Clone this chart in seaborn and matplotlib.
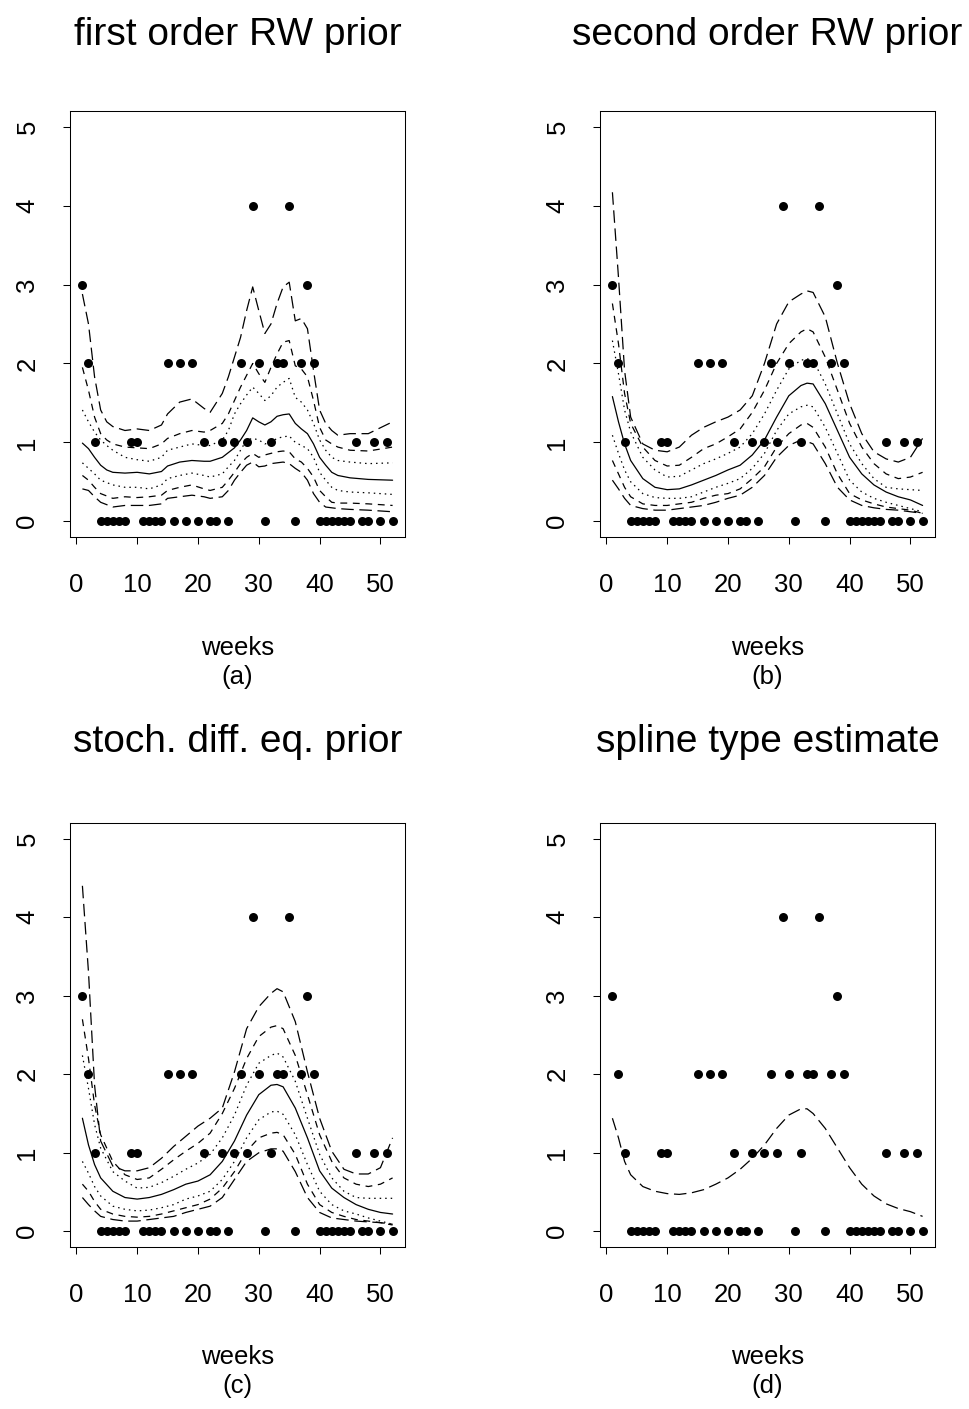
import matplotlib
matplotlib.use('Agg')
import matplotlib.pyplot as plt
import pandas as pd
import seaborn as sns

sns.set_style('ticks')
plt.rcParams['font.family'] = ['Liberation Sans', 'DejaVu Sans']
plt.rcParams['text.color'] = 'black'
plt.rcParams['xtick.color'] = 'black'
plt.rcParams['ytick.color'] = 'black'
plt.rcParams['axes.edgecolor'] = 'black'

# observed weekly counts
weeks = list(range(1, 53))
counts = [3, 2, 1, 0, 0, 0, 0, 0, 1, 1,
          0, 0, 0, 0, 2, 0, 2, 0, 2, 0,
          1, 0, 0, 1, 0, 1, 2, 1, 4, 2,
          0, 1, 2, 2, 4, 0, 2, 3, 2, 0,
          0, 0, 0, 0, 0, 1, 0, 0, 1, 0,
          1, 0]

# (a) first order RW prior: median and quantile curves
weeks_a = [1, 2, 3, 4, 5, 6, 8, 10, 12, 14, 15, 17, 19, 21, 22, 24, 25, 26, 27, 28,
           29, 30, 31, 32, 33, 34, 35, 36, 37, 38, 39, 40, 41, 42, 43, 45, 48, 52]
a_med = [0.99, 0.92, 0.81, 0.71, 0.65, 0.62, 0.61, 0.62, 0.60, 0.63, 0.70, 0.75, 0.77, 0.76, 0.76, 0.81, 0.87, 0.93, 1.03, 1.15,
         1.31, 1.26, 1.22, 1.26, 1.33, 1.35, 1.36, 1.24, 1.17, 1.11, 0.98, 0.81, 0.71, 0.62, 0.58, 0.55, 0.53, 0.52]
a_dot_hi = [1.41, 1.26, 1.13, 1.03, 0.96, 0.90, 0.81, 0.78, 0.76, 0.81, 0.90, 0.94, 0.98, 0.96, 0.96, 1.03, 1.15, 1.36, 1.49, 1.60,
            1.70, 1.62, 1.53, 1.59, 1.70, 1.76, 1.81, 1.57, 1.51, 1.41, 1.24, 1.03, 0.90, 0.81, 0.77, 0.75, 0.73, 0.74]
a_dot_lo = [0.74, 0.67, 0.60, 0.52, 0.49, 0.46, 0.43, 0.43, 0.41, 0.46, 0.54, 0.58, 0.61, 0.58, 0.56, 0.60, 0.69, 0.77, 0.90, 1.03,
            1.05, 1.03, 0.98, 1.00, 1.05, 1.07, 1.08, 1.00, 0.96, 0.92, 0.81, 0.62, 0.52, 0.43, 0.39, 0.37, 0.36, 0.34]
a_dash_hi = [1.95, 1.66, 1.32, 1.11, 1.03, 0.98, 0.94, 0.93, 0.92, 0.98, 1.05, 1.11, 1.15, 1.13, 1.15, 1.24, 1.36, 1.53, 1.70, 1.85,
             2.00, 1.87, 1.76, 1.95, 2.12, 2.27, 2.29, 1.97, 1.93, 1.83, 1.53, 1.19, 1.03, 0.98, 0.94, 0.90, 0.89, 0.94]
a_dash_lo = [0.58, 0.52, 0.43, 0.35, 0.32, 0.29, 0.31, 0.30, 0.31, 0.33, 0.39, 0.43, 0.46, 0.41, 0.39, 0.43, 0.52, 0.62, 0.73, 0.81,
             0.86, 0.81, 0.84, 0.86, 0.88, 0.89, 0.88, 0.79, 0.75, 0.67, 0.56, 0.39, 0.31, 0.24, 0.23, 0.23, 0.22, 0.20]
a_long_hi = [2.88, 2.50, 1.83, 1.41, 1.26, 1.20, 1.15, 1.17, 1.15, 1.22, 1.36, 1.51, 1.55, 1.43, 1.38, 1.62, 1.83, 2.08, 2.33, 2.67,
             2.97, 2.67, 2.38, 2.50, 2.76, 2.97, 3.03, 2.54, 2.57, 2.44, 1.91, 1.41, 1.24, 1.15, 1.09, 1.11, 1.11, 1.26]
a_long_lo = [0.41, 0.39, 0.31, 0.24, 0.21, 0.18, 0.20, 0.20, 0.20, 0.22, 0.29, 0.31, 0.33, 0.31, 0.29, 0.31, 0.39, 0.52, 0.62, 0.71,
             0.75, 0.69, 0.70, 0.73, 0.74, 0.75, 0.73, 0.67, 0.62, 0.52, 0.35, 0.24, 0.18, 0.17, 0.16, 0.15, 0.14, 0.12]

# (b), (c), (d) are smooth, read on a coarser week grid
weeks_s = [1, 2, 3, 4, 6, 8, 10, 12, 14, 16, 18, 20, 22, 24, 26, 28, 30, 32, 33, 34,
           36, 38, 40, 42, 44, 46, 48, 50, 52]

b_med = [1.58, 1.26, 0.98, 0.77, 0.54, 0.43, 0.40, 0.41, 0.46, 0.52, 0.58, 0.65, 0.71, 0.84, 1.03, 1.32, 1.59, 1.72, 1.75, 1.74,
         1.49, 1.15, 0.81, 0.60, 0.46, 0.37, 0.31, 0.27, 0.20]
b_dot_hi = [2.29, 1.87, 1.41, 1.13, 0.81, 0.65, 0.56, 0.57, 0.65, 0.73, 0.79, 0.86, 0.94, 1.11, 1.36, 1.66, 1.93, 2.04, 2.06, 2.04,
            1.74, 1.36, 0.98, 0.73, 0.54, 0.43, 0.41, 0.40, 0.39]
b_dot_lo = [1.09, 0.86, 0.65, 0.50, 0.35, 0.30, 0.29, 0.29, 0.31, 0.37, 0.43, 0.48, 0.54, 0.67, 0.86, 1.15, 1.36, 1.45, 1.47, 1.45,
            1.19, 0.86, 0.52, 0.37, 0.29, 0.24, 0.20, 0.16, 0.12]
b_dash_hi = [2.76, 2.25, 1.62, 1.24, 0.94, 0.77, 0.70, 0.71, 0.81, 0.92, 0.98, 1.07, 1.17, 1.38, 1.66, 2.00, 2.25, 2.40, 2.44, 2.40,
             2.08, 1.66, 1.24, 0.94, 0.73, 0.60, 0.54, 0.56, 0.62]
b_dash_lo = [0.77, 0.60, 0.43, 0.31, 0.22, 0.20, 0.20, 0.22, 0.24, 0.29, 0.33, 0.35, 0.41, 0.54, 0.69, 0.94, 1.11, 1.22, 1.24, 1.19,
             0.94, 0.60, 0.35, 0.27, 0.22, 0.18, 0.16, 0.14, 0.10]
b_long_hi = [4.17, 3.09, 1.91, 1.32, 0.98, 0.90, 0.88, 0.94, 1.09, 1.19, 1.26, 1.32, 1.41, 1.59, 2.00, 2.50, 2.78, 2.88, 2.92, 2.90,
             2.59, 2.00, 1.49, 1.11, 0.88, 0.79, 0.75, 0.81, 1.05]
b_long_lo = [0.52, 0.41, 0.29, 0.20, 0.16, 0.14, 0.14, 0.16, 0.18, 0.20, 0.24, 0.29, 0.33, 0.43, 0.58, 0.81, 0.96, 1.03, 1.01, 0.98,
             0.73, 0.43, 0.27, 0.20, 0.17, 0.15, 0.14, 0.12, 0.10]

c_med = [1.44, 1.10, 0.85, 0.68, 0.51, 0.43, 0.41, 0.43, 0.47, 0.53, 0.60, 0.64, 0.72, 0.89, 1.15, 1.48, 1.74, 1.86, 1.87, 1.84,
         1.57, 1.19, 0.77, 0.55, 0.43, 0.34, 0.28, 0.24, 0.22]
c_dot_hi = [2.24, 1.82, 1.36, 1.06, 0.76, 0.64, 0.55, 0.56, 0.62, 0.70, 0.79, 0.87, 0.98, 1.19, 1.48, 1.86, 2.14, 2.24, 2.27, 2.22,
            1.91, 1.44, 0.98, 0.68, 0.51, 0.43, 0.42, 0.42, 0.42]
c_dot_lo = [0.89, 0.74, 0.57, 0.45, 0.32, 0.28, 0.26, 0.27, 0.30, 0.34, 0.41, 0.45, 0.51, 0.66, 0.89, 1.19, 1.42, 1.52, 1.53, 1.49,
            1.23, 0.85, 0.51, 0.34, 0.26, 0.22, 0.17, 0.13, 0.09]
c_dash_hi = [2.70, 2.20, 1.61, 1.23, 0.89, 0.72, 0.66, 0.68, 0.79, 0.91, 1.02, 1.12, 1.25, 1.50, 1.82, 2.20, 2.48, 2.60, 2.62, 2.58,
             2.24, 1.74, 1.23, 0.89, 0.68, 0.60, 0.57, 0.60, 0.68]
c_dash_lo = [0.60, 0.51, 0.38, 0.28, 0.22, 0.19, 0.18, 0.19, 0.22, 0.26, 0.30, 0.34, 0.41, 0.55, 0.76, 1.02, 1.19, 1.25, 1.26, 1.23,
             0.98, 0.60, 0.34, 0.24, 0.19, 0.15, 0.13, 0.11, 0.08]
c_long_hi = [4.40, 3.30, 1.86, 1.15, 0.83, 0.77, 0.77, 0.81, 0.93, 1.08, 1.21, 1.34, 1.44, 1.57, 2.03, 2.58, 2.86, 3.03, 3.09, 3.05,
             2.67, 2.03, 1.44, 1.02, 0.79, 0.73, 0.73, 0.81, 1.19]
c_long_lo = [0.43, 0.34, 0.26, 0.19, 0.15, 0.13, 0.13, 0.15, 0.17, 0.19, 0.24, 0.28, 0.32, 0.43, 0.66, 0.89, 1.00, 1.05, 1.05, 1.02,
             0.76, 0.43, 0.24, 0.17, 0.15, 0.13, 0.12, 0.11, 0.09]

d_spline = [1.44, 1.19, 0.89, 0.72, 0.57, 0.51, 0.48, 0.47, 0.49, 0.53, 0.60, 0.68, 0.79, 0.93, 1.10, 1.31, 1.48, 1.56, 1.56, 1.50,
            1.31, 1.06, 0.81, 0.60, 0.45, 0.35, 0.29, 0.25, 0.19]

titles = ['first order RW prior', 'second order RW prior',
          'stoch. diff. eq. prior', 'spline type estimate']
subs = ['(a)', '(b)', '(c)', '(d)']

# dash patterns in units of line width (R lty 1, 3, 2, 5)
DASHES = {'solid': '', 'dotted': (1.2, 3.2), 'dashed': (5.5, 4.5), 'longdash': (10, 4.5)}


def band_frame(wk, lines):
    rows = []
    for name, style, vals in lines:
        for w, v in zip(wk, vals):
            rows.append((w, v, name, style))
    return pd.DataFrame(rows, columns=['week', 'value', 'line', 'style'])


panels = [
    band_frame(weeks_a, [('lo3', 'longdash', a_long_lo), ('lo2', 'dashed', a_dash_lo), ('lo1', 'dotted', a_dot_lo),
                         ('med', 'solid', a_med),
                         ('hi1', 'dotted', a_dot_hi), ('hi2', 'dashed', a_dash_hi), ('hi3', 'longdash', a_long_hi)]),
    band_frame(weeks_s, [('lo3', 'longdash', b_long_lo), ('lo2', 'dashed', b_dash_lo), ('lo1', 'dotted', b_dot_lo),
                         ('med', 'solid', b_med),
                         ('hi1', 'dotted', b_dot_hi), ('hi2', 'dashed', b_dash_hi), ('hi3', 'longdash', b_long_hi)]),
    band_frame(weeks_s, [('lo3', 'longdash', c_long_lo), ('lo2', 'dashed', c_dash_lo), ('lo1', 'dotted', c_dot_lo),
                         ('med', 'solid', c_med),
                         ('hi1', 'dotted', c_dot_hi), ('hi2', 'dashed', c_dash_hi), ('hi3', 'longdash', c_long_hi)]),
    band_frame(weeks_s, [('spl', 'longdash', d_spline)]),
]

fig = plt.figure(figsize=(9.7, 14.09), dpi=100)
W, H = 970, 1409
boxes = [(70, 111, 405, 537), (600, 111, 935, 537),
         (70, 823, 405, 1247), (600, 823, 935, 1247)]
title_pads = [47.5, 47.5, 51, 51]

for i, df in enumerate(panels):
    l, t, r, b = boxes[i]
    ax = fig.add_axes([l / W, 1 - b / H, (r - l) / W, (b - t) / H])

    sns.scatterplot(x=weeks, y=counts, color='black', s=42, linewidth=0, ax=ax, zorder=3)
    used = {k: v for k, v in DASHES.items() if k in set(df['style'])}
    sns.lineplot(data=df, x='week', y='value', units='line', style='style', estimator=None,
                 dashes=used, color='black', lw=0.9, legend=False, ax=ax)

    ax.set_xlim(-1.04, 54.04)
    ax.set_ylim(-0.2, 5.2)
    ax.set_xticks(range(0, 51, 10))
    ax.set_yticks(range(0, 6))
    ax.set_xlabel('')
    ax.set_ylabel('')
    ax.tick_params(axis='both', length=5, width=0.75, labelsize=18.5, color='black', labelcolor='black')
    ax.tick_params(axis='x', pad=21)
    ax.tick_params(axis='y', pad=17, labelrotation=90)
    for lab in ax.get_yticklabels():
        lab.set_verticalalignment('center')
    for sp in ax.spines.values():
        sp.set_visible(True)
        sp.set_linewidth(0.75)
        sp.set_color('black')

    ax.set_title(titles[i], fontsize=28, pad=title_pads[i], color='black')
    ax.text(0.5, -0.277, 'weeks', transform=ax.transAxes, ha='center', va='baseline', fontsize=18.5)
    ax.text(0.5, -0.345, subs[i], transform=ax.transAxes, ha='center', va='baseline', fontsize=18.5)

fig.savefig('out.png', dpi=100, facecolor='white')
